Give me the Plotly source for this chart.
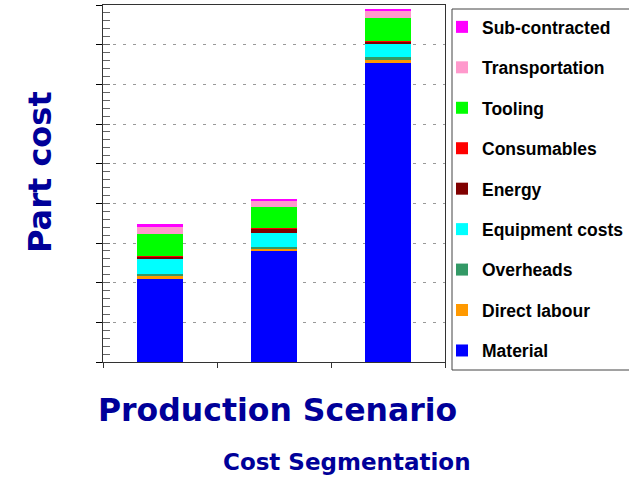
import plotly.graph_objects as go

# Production scenarios (x categories)
scenarios = ["Scenario A", "Scenario B", "Scenario C"]

# Cost components, stacked bottom to top
material = [2.10, 2.81, 7.54]
direct_labour = [0.075, 0.05, 0.075]
overheads = [0.05, 0.05, 0.075]
equipment_costs = [0.38, 0.35, 0.35]
energy = [0.05, 0.10, 0.05]
consumables = [0.01, 0.01, 0.01]
tooling = [0.555, 0.53, 0.58]
transportation = [0.20, 0.15, 0.18]
sub_contracted = [0.05, 0.07, 0.05]

series = [
    ("Material", material, "#0000FF"),
    ("Direct labour", direct_labour, "#FF9900"),
    ("Overheads", overheads, "#339966"),
    ("Equipment costs", equipment_costs, "#00FFFF"),
    ("Energy", energy, "#800000"),
    ("Consumables", consumables, "#FF0000"),
    ("Tooling", tooling, "#00FF00"),
    ("Transportation", transportation, "#FF99CC"),
    ("Sub-contracted", sub_contracted, "#FF00FF"),
]

TITLE_BLUE = "#000099"

W, H = 629, 480
L, R, T, B = 103, 445, 5, 362
PW, PH = R - L, B - T


def px(x):
    return (x - L) / PW


def py(y):
    return (B - y) / PH


fig = go.Figure()
n = len(series)
for i, (name, vals, color) in enumerate(series):
    fig.add_trace(go.Bar(
        x=scenarios, y=vals, name=name, legendgroup=name,
        legendrank=n - i,
        marker=dict(color=color, line=dict(width=0)),
    ))

# invisible carrier so the minor-tick axis is drawn
fig.add_trace(go.Scatter(
    x=[scenarios[0]], y=[0], yaxis="y2", mode="markers",
    marker=dict(opacity=0), showlegend=False, hoverinfo="skip",
))

fig.update_layout(
    width=W, height=H, autosize=False,
    margin=dict(l=L, r=W - R, t=T, b=H - B, autoexpand=False),
    paper_bgcolor="white", plot_bgcolor="white",
    barmode="stack", bargap=0.59,
    font=dict(family="DejaVu Sans", color="black"),
    showlegend=True,
    legend=dict(
        traceorder="grouped", tracegroupgap=14.7, maxheight=1,
        xref="container", yref="container",
        x=442 / W, y=1 - 9 / H, xanchor="left", yanchor="top",
        borderwidth=0, bgcolor="rgba(0,0,0,0)",
        font=dict(family="Liberation Sans", size=17.5, color="black", weight="bold"),
    ),
    xaxis=dict(
        type="category", tickson="boundaries",
        ticks="outside", ticklen=5, tickcolor="#333333", tickwidth=1,
        showticklabels=False, showgrid=False,
        showline=True, linecolor="#333333", linewidth=1, mirror=True,
    ),
    yaxis=dict(
        range=[0, 9], dtick=1, tick0=0,
        ticks="outside", ticklen=6, tickcolor="black", tickwidth=1,
        showticklabels=False,
        showgrid=True, gridcolor="#999999", griddash="3px,7px", gridwidth=1,
        showline=True, linecolor="#333333", linewidth=1, mirror=True,
        zeroline=False,
    ),
    yaxis2=dict(
        overlaying="y", range=[0, 9], dtick=0.2, tick0=0,
        ticks="inside", ticklen=7, tickcolor="#666666", tickwidth=1,
        showticklabels=False, showgrid=False, zeroline=False,
        showline=False, side="left",
    ),
    shapes=[
        dict(type="rect", xref="paper", yref="paper",
             x0=px(452), x1=px(640), y0=py(370), y1=py(9),
             line=dict(color="#444444", width=1), fillcolor="rgba(0,0,0,0)",
             layer="below"),
    ],
    annotations=[
        dict(text="Part cost", xref="paper", yref="paper",
             x=px(40), y=py(172), xanchor="center", yanchor="middle",
             textangle=-90, showarrow=False,
             font=dict(family="DejaVu Sans", size=32, color=TITLE_BLUE, weight="bold")),
        dict(text="Production Scenario", xref="paper", yref="paper",
             x=px(277), y=py(410), xanchor="center", yanchor="middle",
             showarrow=False,
             font=dict(family="DejaVu Sans", size=31.5, color=TITLE_BLUE, weight="bold")),
        dict(text="Cost Segmentation", xref="paper", yref="paper",
             x=px(347), y=py(462), xanchor="center", yanchor="middle",
             showarrow=False,
             font=dict(family="DejaVu Sans", size=23, color=TITLE_BLUE, weight="bold")),
    ],
)

fig.write_html("out.html")
